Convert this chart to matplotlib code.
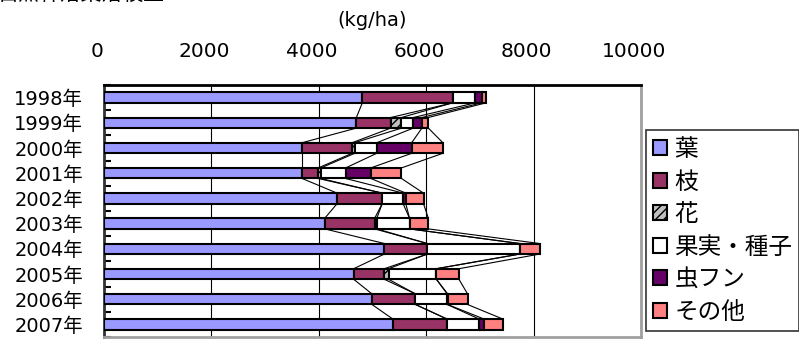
# -*- coding: utf-8 -*-
# Stacked horizontal bars (litterfall by component, 1998-2007) with Excel-like series lines
import numpy as np
import matplotlib
matplotlib.use("Agg")
import matplotlib.pyplot as plt
import matplotlib.transforms as mtransforms

plt.rcParams['font.family'] = ['DejaVu Sans', 'Noto Sans CJK JP']
plt.rcParams['hatch.color'] = "#808080"

# ---- data (kg/ha) ----
years = ["1998年", "1999年", "2000年", "2001年", "2002年",
         "2003年", "2004年", "2005年", "2006年", "2007年"]
leaf = [4810, 4700, 3690, 3690, 4340, 4110, 5220, 4650, 4990, 5380]
branch = [1680, 640, 930, 300, 840, 930, 800, 570, 810, 1010]
flower = [0, 200, 50, 50, 0, 40, 0, 80, 0, 0]
fruit = [420, 220, 410, 460, 390, 610, 1720, 890, 590, 600]
insect = [120, 160, 650, 470, 50, 0, 0, 0, 10, 90]
other = [80, 120, 580, 570, 330, 350, 370, 420, 370, 350]

series_names = ["葉", "枝", "花", "果実・種子", "虫フン", "その他"]
colors = ["#9999FF", "#993366", "#C0C0C0", "#FFFFFF", "#660066", "#FF8080"]
hatches = [None, None, "////", None, None, None]

fig = plt.figure(figsize=(7.99, 3.42), dpi=100)
ax = fig.add_axes([104 / 799, 5 / 342, 537 / 799, 252 / 342])

data = np.array([leaf, branch, flower, fruit, insect, other], dtype=float)
ypos = np.arange(len(years))
h = 0.42
left = np.zeros(len(years))
for vals, name, col, hat in zip(data, series_names, colors, hatches):
    ax.barh(ypos, vals, left=left, height=h, color=col, edgecolor="black",
            linewidth=1.5, hatch=hat, label=name, zorder=3)
    left = left + vals

# series lines: join each segment end between consecutive bars
cum = np.cumsum(data, axis=0)
for k in range(cum.shape[0]):
    for i in range(len(years) - 1):
        ax.plot([cum[k, i], cum[k, i + 1]], [i + h / 2, i + 1 - h / 2],
                color="black", lw=0.8, zorder=2)

ax.set_xlim(0, 10000)
ax.set_ylim(len(years) - 0.5, -0.5)
ax.xaxis.tick_top()
ax.set_xticks(np.arange(0, 10001, 2000))
ax.tick_params(axis="x", length=0, pad=17, labelsize=14.5)
# Excel puts the value labels a little to the left of the gridlines
shift = mtransforms.ScaledTranslation(-7 / 100, 0, fig.dpi_scale_trans)
for lab in ax.get_xticklabels():
    lab.set_transform(lab.get_transform() + shift)

ax.set_yticks(ypos)
ax.set_yticklabels(years)
ax.tick_params(axis="y", length=0, pad=15, labelsize=14)
ax.set_yticks(np.arange(-0.5, len(years)), minor=True)
ax.tick_params(axis="y", which="minor", direction="in", length=5, width=1.5)

ax.grid(axis="x", color="black", lw=0.8, zorder=1)
ax.spines["top"].set_linewidth(2)
ax.spines["left"].set_linewidth(2)
ax.spines["left"].set_color("#333333")
ax.spines["right"].set_linewidth(2)
ax.spines["right"].set_color("#A0A0A0")
ax.spines["bottom"].set_linewidth(2)
ax.spines["bottom"].set_color("#A0A0A0")

fig.text(372 / 799, 1 - 21 / 342, "(kg/ha)", ha="center", va="center", fontsize=14)
# title: only the bottom of it shows in the original crop
fig.text(-0.003, 1 - 4 / 342, "自然林落葉落枝量", ha="left", va="bottom", fontsize=15)

leg = fig.legend(loc="upper left", bbox_to_anchor=(646 / 799, 1 - 130 / 342),
                 fontsize=17, frameon=True, fancybox=False, edgecolor="black",
                 handlelength=0.6, handleheight=0.6, handletextpad=0.3,
                 labelspacing=0.36, borderpad=0.3, borderaxespad=0)
leg.get_frame().set_linewidth(1.2)

fig.savefig("out.png", dpi=100)
